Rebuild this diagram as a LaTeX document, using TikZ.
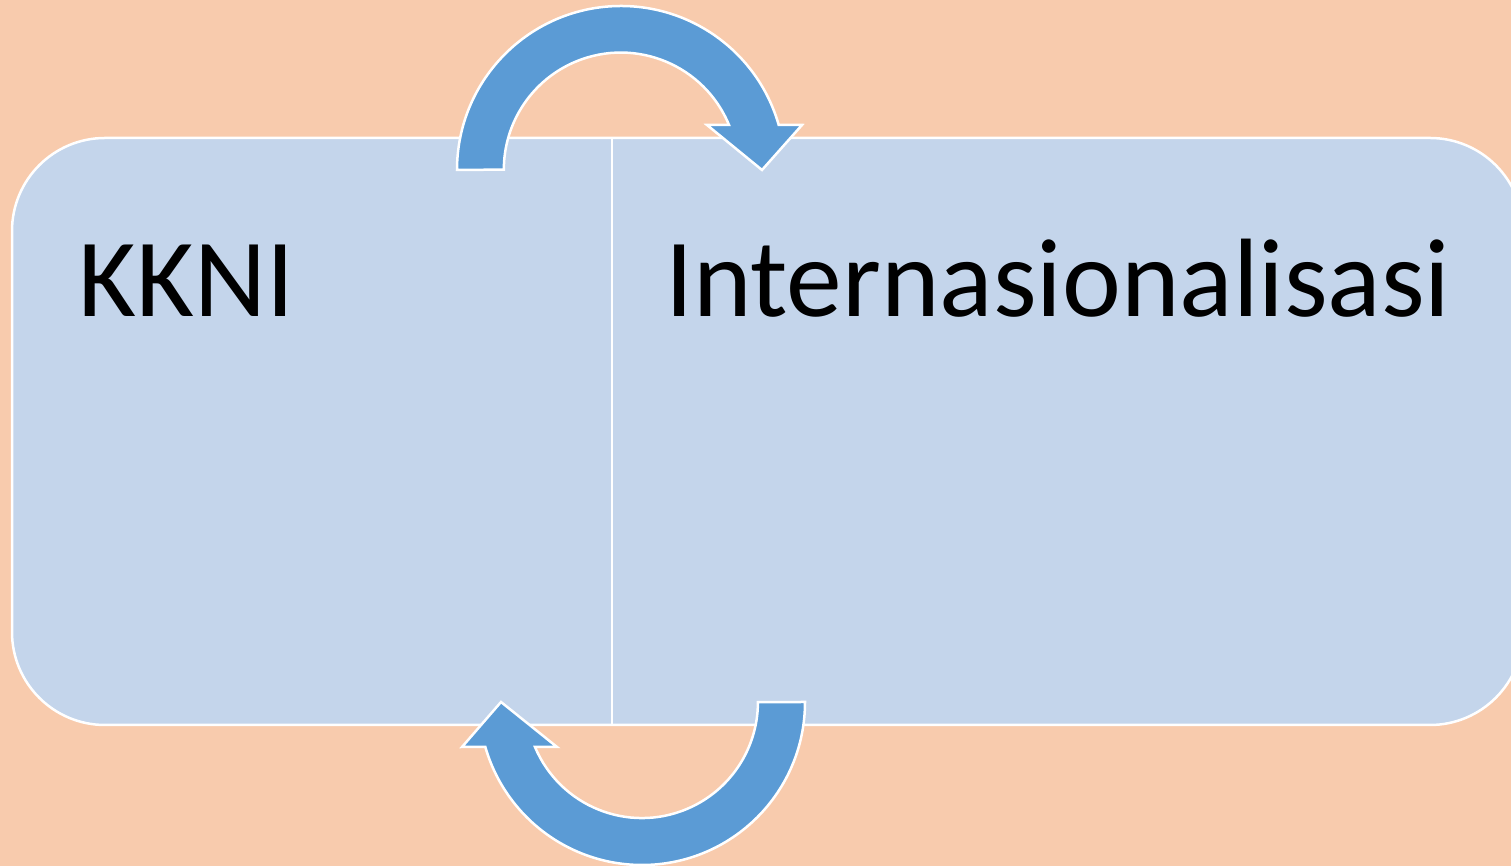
\documentclass[tikz,border=0pt]{standalone}
\usepackage{fontspec}
\setmainfont{Carlito}
\definecolor{peach}{HTML}{F8CBAD}
\definecolor{paleblue}{HTML}{C4D5EB}
\definecolor{arrowblue}{HTML}{5B9BD5}
\tikzset{
  panel/.style={fill=paleblue, draw=white, line width=2.5pt},
  turnarrow/.style={fill=arrowblue, draw=white, line width=2.5pt, line join=miter},
  bigword/.style={anchor=base west, inner sep=0pt, font=\fontsize{111.5}{124}\selectfont}
}
\begin{document}
\begin{tikzpicture}[x=1pt, y=1pt]
\useasboundingbox (0,0) rectangle (1511,866);
\clip (0,0) rectangle (1511,866);
\fill[peach] (0,0) rectangle (1511,866);

% the two panels
\draw[panel, rounded corners=93pt] (12,141) rectangle (1523,728);
\draw[white, line width=2.5pt] (612,141) -- (612,728);

\node[bigword] (kkni) at (78,549) {KKNI};
\node[bigword] (inter) at (665,549) {Internasionalisasi};

% top arrow
\filldraw[turnarrow] (457,696) arc[start angle=180, end angle=16, radius=164]
  -- (802,741) -- (762,696) -- (707,741) -- (729,741)
  arc[start angle=22.4, end angle=180, radius=117] -- cycle;

% bottom arrow
\filldraw[turnarrow] (805,164) arc[start angle=0, end angle=-164, radius=163]
  -- (462,119) -- (501,164) -- (557,119) -- (535,119)
  arc[start angle=-157.2, end angle=0, radius=116] -- cycle;

\end{tikzpicture}
\end{document}
